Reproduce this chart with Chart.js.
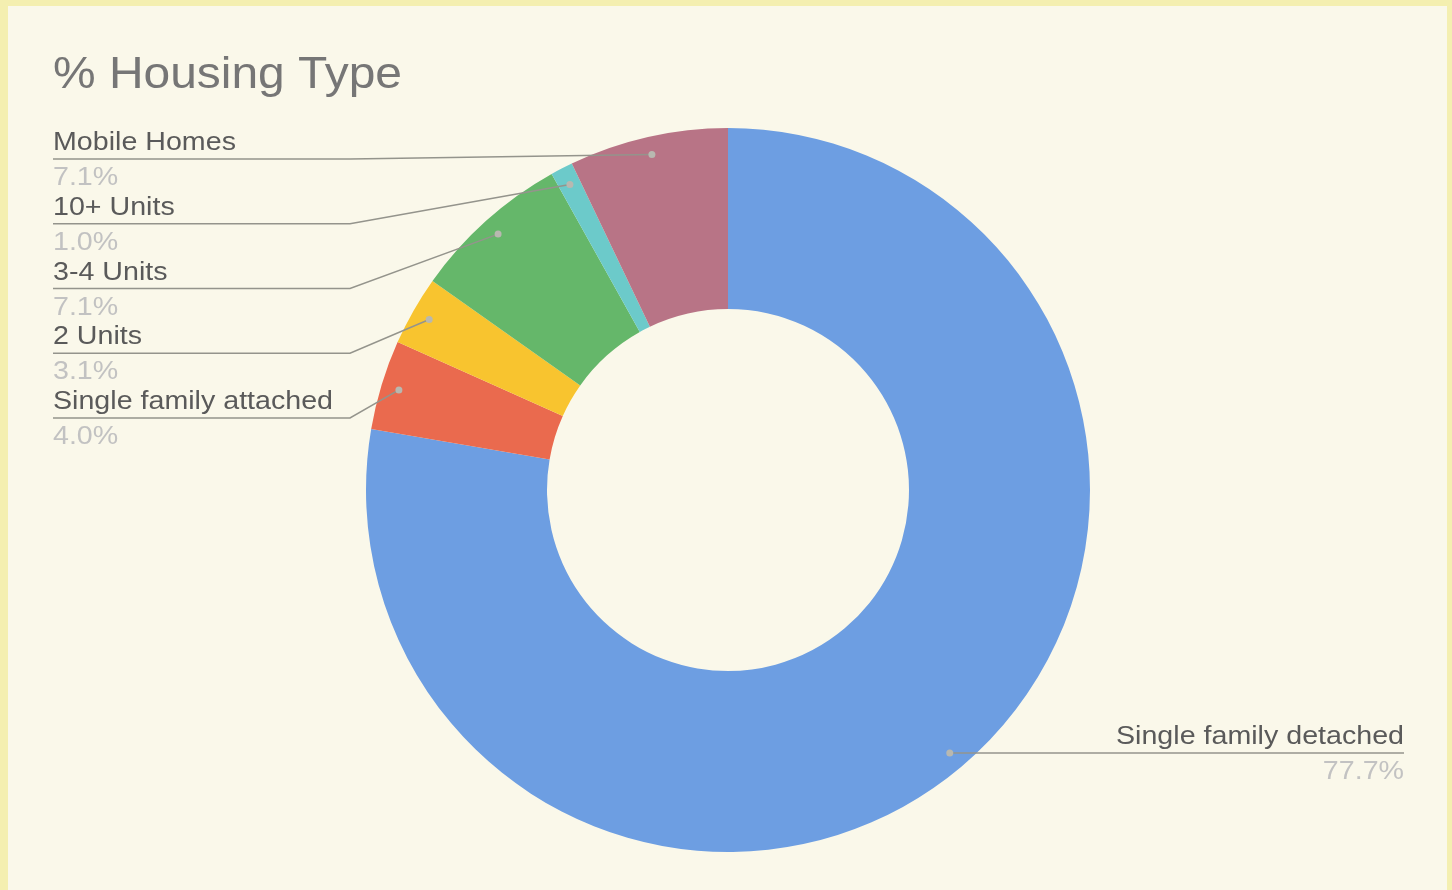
<!DOCTYPE html>
<html lang="en">
<head>
  <meta charset="UTF-8">
  <title>% Housing Type</title>
  <script src="https://cdn.jsdelivr.net/npm/chart.js"></script>
  <style>
    body {
      margin: 0;
      background: #f4efb0;
      width: 1452px;
      height: 890px;
      overflow: hidden;
    }

    .chart-container {
      position: absolute;
      left: 8px;
      top: 6px;
      width: 1439px;
      height: 884px;
      background: #faf8ea;
    }

    canvas {
      width: 100% !important;
      height: 100% !important;
    }
  </style>
</head>
<body>

  <div class="chart-container">
    <canvas id="housingChart"></canvas>
  </div>

  <script>
    const categories = ['Single family detached', 'Single family attached', '2 Units', '3-4 Units', '10+ Units', 'Mobile Homes'];
    const shares = [77.7, 4.0, 3.1, 7.1, 1.0, 7.1];
    const sliceColors = ['#6d9ee2', '#ea6a4e', '#f8c42f', '#65b76a', '#6ccaca', '#b87486'];

    const FONT = '"Liberation Sans", Arial, sans-serif';

    // the source picture is a bit stretched sideways, so text gets a horizontal scale
    function stretchText(ctx, text, x, y, sx, align) {
      ctx.save();
      ctx.translate(x, y);
      ctx.scale(sx, 1);
      ctx.textAlign = align;
      ctx.fillText(text, 0, 0);
      ctx.restore();
    }

    // draws title, leader lines and slice labels the way the sheet chart does
    const calloutPlugin = {
      id: 'callouts',
      afterDraw(chart) {
        const ctx = chart.ctx;
        const meta = chart.getDatasetMeta(0);

        ctx.save();
        ctx.fillStyle = '#767676';
        ctx.font = '45px ' + FONT;
        ctx.textBaseline = 'alphabetic';
        stretchText(ctx, '% Housing Type', 45, 82, 1.065, 'left');

        const points = meta.data.map((arc, i) => {
          const p = arc.getProps(['x', 'y', 'startAngle', 'endAngle', 'outerRadius']);
          const mid = (p.startAngle + p.endAngle) / 2;
          const r = p.outerRadius - 18;
          return { i, x: p.x + Math.cos(mid) * r, y: p.y + Math.sin(mid) * r };
        });

        const cx = meta.data[0].x;
        const left = points.filter(p => p.x < cx).sort((a, b) => a.y - b.y);
        const right = points.filter(p => p.x >= cx);

        ctx.lineWidth = 1.5;
        ctx.strokeStyle = '#94948c';
        ctx.font = '25px ' + FONT;

        left.forEach((p, k) => {
          const lineY = 153 + k * 64.75;
          ctx.beginPath();
          ctx.moveTo(45, lineY);
          ctx.lineTo(342, lineY);
          ctx.lineTo(p.x, p.y);
          ctx.stroke();
          drawDot(ctx, p);
          ctx.fillStyle = '#5a5a5a';
          stretchText(ctx, categories[p.i], 45, lineY - 9, 1.145, 'left');
          ctx.fillStyle = '#c2c2c2';
          stretchText(ctx, shares[p.i].toFixed(1) + '%', 45, lineY + 26, 1.145, 'left');
        });

        right.forEach(p => {
          const rx = 1396;
          ctx.beginPath();
          ctx.moveTo(p.x, p.y);
          ctx.lineTo(rx, p.y);
          ctx.stroke();
          drawDot(ctx, p);
          ctx.fillStyle = '#5a5a5a';
          stretchText(ctx, categories[p.i], rx, p.y - 9, 1.145, 'right');
          ctx.fillStyle = '#c2c2c2';
          stretchText(ctx, shares[p.i].toFixed(1) + '%', rx, p.y + 26, 1.145, 'right');
        });
        ctx.restore();
      }
    };

    function drawDot(ctx, p) {
      ctx.save();
      ctx.fillStyle = '#b8b8b0';
      ctx.beginPath();
      ctx.arc(p.x, p.y, 3.5, 0, Math.PI * 2);
      ctx.fill();
      ctx.restore();
    }

    const ctx = document.getElementById('housingChart').getContext('2d');
    new Chart(ctx, {
      type: 'doughnut',
      data: {
        labels: categories,
        datasets: [{
          data: shares,
          backgroundColor: sliceColors,
          borderWidth: 0
        }]
      },
      options: {
        responsive: true,
        maintainAspectRatio: false,
        animation: false,
        cutout: '50%',
        layout: {
          padding: { left: 358, right: 357, top: 122, bottom: 38 }
        },
        plugins: {
          legend: { display: false },
          tooltip: { enabled: false },
          title: { display: false }
        }
      },
      plugins: [calloutPlugin]
    });
  </script>
</body>
</html>
